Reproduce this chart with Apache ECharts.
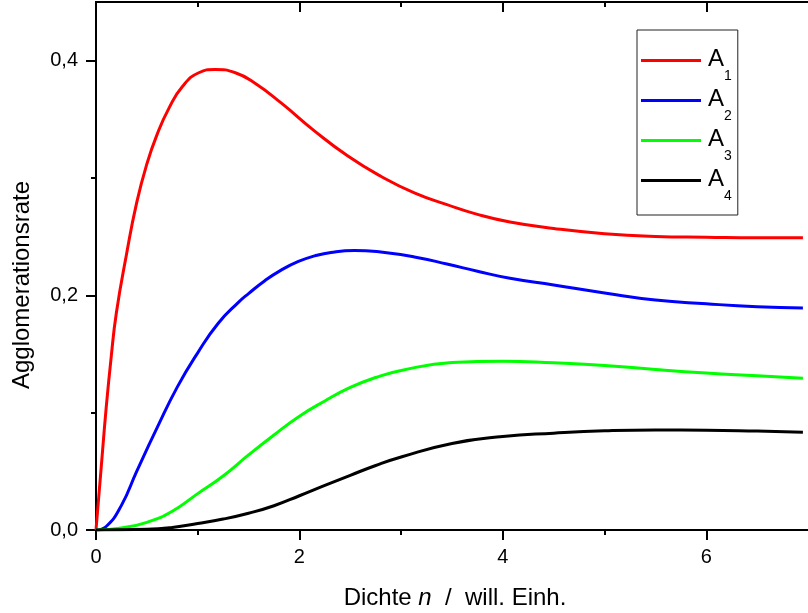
<!DOCTYPE html>
<html>
<head>
<meta charset="utf-8">
<script src="https://cdn.jsdelivr.net/npm/echarts@6/dist/echarts.min.js"></script>
<style>
  html, body { margin: 0; padding: 0; background: #fff; }
  #chart { width: 808px; height: 613px; }
</style>
</head>
<body>
<div id="chart"></div>
<script>
// Agglomeration rate A1..A4 versus density n
const xA1 = [0, 0.05, 0.1, 0.15, 0.2, 0.3, 0.4, 0.5, 0.6, 0.72, 0.85, 1.01, 1.17, 1.37, 1.56, 1.82, 2.15, 2.48, 2.8, 3.13, 3.45, 3.75, 4.07, 4.5, 5.0, 5.5, 6.0, 6.5, 6.95];
const yA1 = [0, 0.052, 0.104, 0.148, 0.185, 0.235, 0.279, 0.312, 0.337, 0.360, 0.378, 0.3897, 0.3925, 0.3897, 0.381, 0.364, 0.340, 0.3185, 0.3015, 0.2873, 0.2773, 0.269, 0.2625, 0.257, 0.2525, 0.2502, 0.2495, 0.249, 0.249];

const xA2 = [0, 0.1, 0.25, 0.4, 0.6, 0.8, 1.0, 1.2, 1.4, 1.5, 1.66, 1.82, 1.99, 2.15, 2.31, 2.54, 2.8, 3.13, 3.45, 3.75, 4.07, 4.5, 5.0, 5.5, 6.0, 6.5, 6.95];
const yA2 = [0, 0.003, 0.021, 0.050, 0.087, 0.122, 0.151, 0.176, 0.194, 0.2015, 0.2125, 0.2215, 0.2289, 0.2336, 0.2366, 0.2383, 0.2369, 0.2327, 0.2267, 0.2205, 0.2145, 0.2088, 0.202, 0.196, 0.1928, 0.1903, 0.1892];

const xA3 = [0, 0.25, 0.5, 0.75, 1.0, 1.25, 1.5, 1.75, 2.0, 2.25, 2.5, 2.75, 3.0, 3.5, 4.0, 4.5, 5.0, 5.5, 6.0, 6.5, 6.95];
const yA3 = [0, 0.0018, 0.0065, 0.016, 0.031, 0.046, 0.064, 0.081, 0.097, 0.110, 0.1215, 0.130, 0.136, 0.1427, 0.1439, 0.1425, 0.1403, 0.1368, 0.1338, 0.1315, 0.1294];

const xA4 = [0, 0.5, 0.75, 1.0, 1.25, 1.5, 1.75, 2.0, 2.25, 2.5, 2.75, 3.0, 3.5, 4.0, 4.5, 5.0, 5.5, 6.0, 6.5, 6.95];
const yA4 = [0, 0.0006, 0.0022, 0.0055, 0.0093, 0.0143, 0.0207, 0.0292, 0.038, 0.0466, 0.055, 0.0622, 0.0738, 0.0797, 0.0825, 0.0845, 0.0853, 0.0851, 0.0843, 0.0834];

const seriesNames = ['A1', 'A2', 'A3', 'A4'];
const seriesColors = ['#ff0000', '#0000ff', '#00ff00', '#000000'];

const xMajorTicks = [0, 2, 4, 6];
const xMinorTicks = [1, 3, 5];
const yMajorTicks = [0, 0.2, 0.4];
const yMinorTicks = [0.1, 0.3];

const FONT = '"Liberation Sans", Arial, sans-serif';

function pairs(xs, ys) { return xs.map((x, i) => [x, ys[i]]); }
const allData = [pairs(xA1, yA1), pairs(xA2, yA2), pairs(xA3, yA3), pairs(xA4, yA4)];

const axisLineStyle = { color: '#000', width: 2 };

function xAxisDef(position, ticks, len, inside, withLabels) {
  return {
    type: 'value', position: position, min: 0, max: 7,
    axisLine: { show: true, onZero: false, lineStyle: axisLineStyle },
    axisTick: { show: true, inside: inside, length: len, customValues: ticks, lineStyle: { color: '#000', width: 2 } },
    axisLabel: withLabels ? {
      show: true, customValues: ticks, margin: 17, color: '#000', fontSize: 20, fontFamily: FONT,
      formatter: v => String(v)
    } : { show: false },
    splitLine: { show: false }
  };
}

function yAxisDef(ticks, len, withLabels) {
  return {
    type: 'value', position: 'left', min: 0, max: 0.45,
    axisLine: { show: true, onZero: false, lineStyle: axisLineStyle },
    axisTick: { show: true, length: len, customValues: ticks, lineStyle: { color: '#000', width: 2 } },
    axisLabel: withLabels ? {
      show: true, customValues: ticks, margin: 18, color: '#000', fontSize: 20, fontFamily: FONT,
      formatter: v => v.toFixed(1).replace('.', ',')
    } : { show: false },
    splitLine: { show: false }
  };
}

const chart = echarts.init(document.getElementById('chart'), null, { renderer: 'canvas' });

chart.setOption({
  animation: false,
  backgroundColor: '#fff',
  grid: { left: 96, top: 2, width: 716, height: 528, containLabel: false },
  xAxis: [
    xAxisDef('bottom', xMajorTicks, 10, false, true),
    xAxisDef('bottom', xMinorTicks, 5, false, false),
    xAxisDef('top', xMajorTicks, 10, true, false),
    xAxisDef('top', xMinorTicks, 5, true, false)
  ],
  yAxis: [
    yAxisDef(yMajorTicks, 10, true),
    yAxisDef(yMinorTicks, 5, false)
  ],
  legend: {
    orient: 'vertical',
    left: 637, top: 30,
    width: 99,
    padding: [8, 6, 12, 4],
    itemGap: -5,
    icon: 'rect',
    itemWidth: 60,
    itemHeight: 3,
    borderColor: '#222',
    borderWidth: 1,
    borderRadius: 0,
    backgroundColor: '#fff',
    data: seriesNames,
    formatter: name => '{a|A}{s|' + name.slice(1) + '}',
    textStyle: {
      color: '#000',
      fontFamily: FONT,
      lineHeight: 36,
      padding: [9, 0, 0, 2],
      rich: {
        a: { fontSize: 24, fontFamily: FONT, color: '#000', lineHeight: 36, verticalAlign: 'top' },
        s: { fontSize: 14, fontFamily: FONT, color: '#000', lineHeight: 36, verticalAlign: 'bottom' }
      }
    }
  },
  graphic: [
    {
      type: 'text', x: 22, y: 285, rotation: Math.PI / 2,
      style: { text: 'Agglomerationsrate', fontSize: 24, fontFamily: FONT, fill: '#000', align: 'center', verticalAlign: 'middle' }
    },
    {
      type: 'text', x: 455, y: 598,
      style: {
        text: 'Dichte {i|n}  /  will. Einh.', fontSize: 24, fontFamily: FONT, fill: '#000',
        align: 'center', verticalAlign: 'middle',
        rich: { i: { fontSize: 24, fontFamily: FONT, fontStyle: 'italic', fill: '#000' } }
      }
    }
  ],
  series: seriesNames.map((name, i) => ({
    name: name,
    type: 'line',
    xAxisIndex: 0,
    yAxisIndex: 0,
    data: allData[i],
    showSymbol: false,
    symbol: 'none',
    smooth: 0.5,
    clip: true,
    color: seriesColors[i],
    lineStyle: { color: seriesColors[i], width: 3 },
    z: 3
  }))
});
</script>
</body>
</html>
